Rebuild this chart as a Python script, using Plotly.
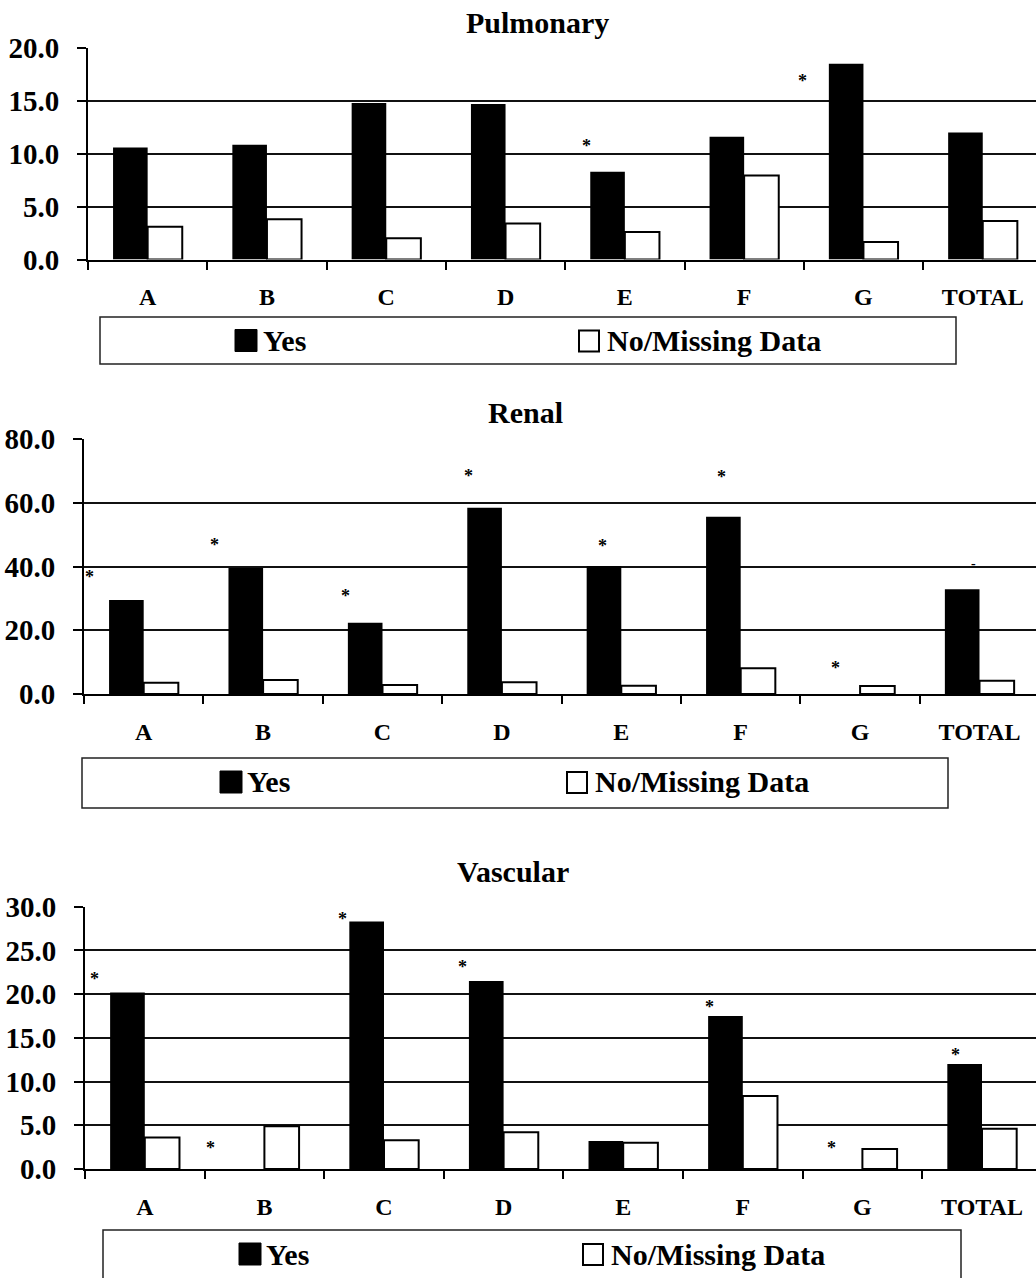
import plotly.graph_objects as go

# ---- data -------------------------------------------------------------
categories = ["A", "B", "C", "D", "E", "F", "G", "TOTAL"]

pulmonary_yes = [10.6, 10.85, 14.8, 14.7, 8.3, 11.6, 18.5, 12.0]
pulmonary_no = [3.1, 3.8, 2.0, 3.4, 2.6, 7.95, 1.65, 3.65]
pulmonary_star_x = [3.68, 5.49]
pulmonary_star_y = [11.0, 17.2]

renal_yes = [29.5, 39.6, 22.4, 58.5, 40.2, 55.7, 0.0, 32.9]
renal_no = [3.5, 4.4, 2.8, 3.7, 2.6, 8.1, 2.5, 4.2]
renal_star_x = [-0.45, 0.59, 1.69, 2.72, 3.84, 4.84, 5.79]
renal_star_y = [37.7, 47.6, 31.6, 69.3, 47.3, 69.1, 9.0]

vascular_yes = [20.2, 0.0, 28.3, 21.5, 3.2, 17.5, 0.0, 12.0]
vascular_no = [3.6, 4.9, 3.3, 4.2, 3.0, 8.35, 2.3, 4.6]
vascular_star_x = [-0.42, 0.55, 1.65, 2.66, 4.72, 5.74, 6.78]
vascular_star_y = [22.1, 2.7, 28.9, 23.5, 18.9, 2.7, 13.4]

y_max = [20, 80, 30]
y_step = [5, 20, 5]
titles = ["Pulmonary", "Renal", "Vascular"]
series_names = ["Yes", "No/Missing Data"]

# ---- page geometry (pixels) ------------------------------------------
W, H = 1036, 1278
FONT = "Liberation Serif"


def fx(p):
    return p / W


def fy(p):
    return 1 - p / H


# plot boxes: left edge, top, bottom, category width
boxes = [
    dict(left=88, top=48, bottom=259.5, width=119.3),
    dict(left=84, top=439.3, bottom=694, width=119.4),
    dict(left=85, top=906.7, bottom=1169, width=119.6),
]
title_pos = [(537, 22), (525, 412), (513, 871)]
legend_boxes = [
    dict(x0=100, x1=956, y0=317, y1=364, yes_sq=235, no_sq=579, yes_tx=261, no_tx=605, sq=22),
    dict(x0=82, x1=948, y0=758, y1=808, yes_sq=220, no_sq=567, yes_tx=245, no_tx=593, sq=22),
    dict(x0=103, x1=961, y0=1230, y1=1300, yes_sq=239, no_sq=583, yes_tx=264, no_tx=609, sq=22),
]

panels = [
    (pulmonary_yes, pulmonary_no, pulmonary_star_x, pulmonary_star_y),
    (renal_yes, renal_no, renal_star_x, renal_star_y),
    (vascular_yes, vascular_no, vascular_star_x, vascular_star_y),
]

fig = go.Figure()
annotations = []
shapes = []

for i, (yes, no, sx, sy) in enumerate(panels):
    sfx = "" if i == 0 else str(i + 1)
    xa, ya = "x" + sfx, "y" + sfx
    fig.add_trace(go.Bar(
        x=categories, y=yes, name=series_names[0], xaxis=xa, yaxis=ya,
        marker=dict(color="black", line=dict(width=0)),
        showlegend=False,
    ))
    fig.add_trace(go.Bar(
        x=categories, y=no, name=series_names[1], xaxis=xa, yaxis=ya,
        marker=dict(color="white", line=dict(color="black", width=2)),
        showlegend=False,
    ))

    b = boxes[i]
    right_px = b["left"] + 8 * b["width"]
    x_hi = 7.5 - (right_px - W) / b["width"]
    fig.layout["xaxis" + sfx] = dict(
        domain=[fx(b["left"]), 1.0], anchor=ya, type="category",
        range=[-0.5, x_hi], tickson="boundaries", automargin=False,
        ticks="outside", ticklen=8, tickwidth=1.5, tickcolor="black",
        showline=True, linecolor="black", linewidth=2, showgrid=False,
        tickfont=dict(family=FONT, size=24, color="black", weight="bold"),
        ticklabelstandoff=15,
    )
    fig.layout["yaxis" + sfx] = dict(
        domain=[fy(b["bottom"]), fy(b["top"])], anchor=xa, automargin=False,
        range=[0, y_max[i]], dtick=y_step[i], tick0=0, tickformat=".1f",
        ticks="outside", ticklen=9, tickwidth=1.5, tickcolor="black",
        showline=True, linecolor="black", linewidth=2,
        showgrid=True, gridcolor="#111111", gridwidth=1.5, zeroline=False,
        tickfont=dict(family=FONT, size=29, color="black", weight="bold"),
        ticklabelstandoff=12,
    )

    # significance markers
    for xv, yv in zip(sx, sy):
        annotations.append(dict(
            x=xv, y=yv, xref=xa, yref=ya, text="*", showarrow=False,
            xanchor="center", yanchor="middle", yshift=-3,
            font=dict(family=FONT, size=18, color="black", weight="bold"),
        ))

    # panel title
    tx, ty = title_pos[i]
    annotations.append(dict(
        x=fx(tx), y=fy(ty), xref="paper", yref="paper", text=titles[i],
        showarrow=False, xanchor="center", yanchor="middle",
        font=dict(family=FONT, size=30, color="black", weight="bold"),
    ))

    # legend box under each panel
    lb = legend_boxes[i]
    shapes.append(dict(
        type="rect", xref="paper", yref="paper",
        x0=fx(lb["x0"]), x1=fx(lb["x1"]), y0=fy(lb["y1"]), y1=fy(lb["y0"]),
        line=dict(color="#222222", width=1.5), fillcolor="white", layer="below",
    ))
    cy = (lb["y0"] + min(lb["y1"], lb["y0"] + 48)) / 2
    half = lb["sq"] / 2
    shapes.append(dict(
        type="rect", xref="paper", yref="paper",
        x0=fx(lb["yes_sq"]), x1=fx(lb["yes_sq"] + lb["sq"]),
        y0=fy(cy + half), y1=fy(cy - half),
        line=dict(color="black", width=1), fillcolor="black",
    ))
    shapes.append(dict(
        type="rect", xref="paper", yref="paper",
        x0=fx(lb["no_sq"]), x1=fx(lb["no_sq"] + lb["sq"] - 2),
        y0=fy(cy + half), y1=fy(cy - half + 1),
        line=dict(color="black", width=2), fillcolor="white",
    ))
    for name, lx in zip(series_names, (lb["yes_tx"], lb["no_tx"])):
        annotations.append(dict(
            x=fx(lx), y=fy(cy), xref="paper", yref="paper", text=name,
            showarrow=False, xanchor="left", yanchor="middle",
            font=dict(family=FONT, size=30, color="black", weight="bold"),
        ))

# small stray mark above the renal TOTAL bar
annotations.append(dict(
    x=6.95, y=41.0, xref="x2", yref="y2", text="-", showarrow=False,
    xanchor="center", yanchor="middle",
    font=dict(family=FONT, size=14, color="black", weight="bold"),
))

fig.update_layout(
    width=W, height=H,
    margin=dict(l=0, r=0, t=0, b=0, pad=0, autoexpand=False),
    paper_bgcolor="white", plot_bgcolor="white",
    barmode="group", bargap=0.42, bargroupgap=0.0,
    annotations=annotations, shapes=shapes,
    showlegend=False,
)

fig.write_html("out.html")
